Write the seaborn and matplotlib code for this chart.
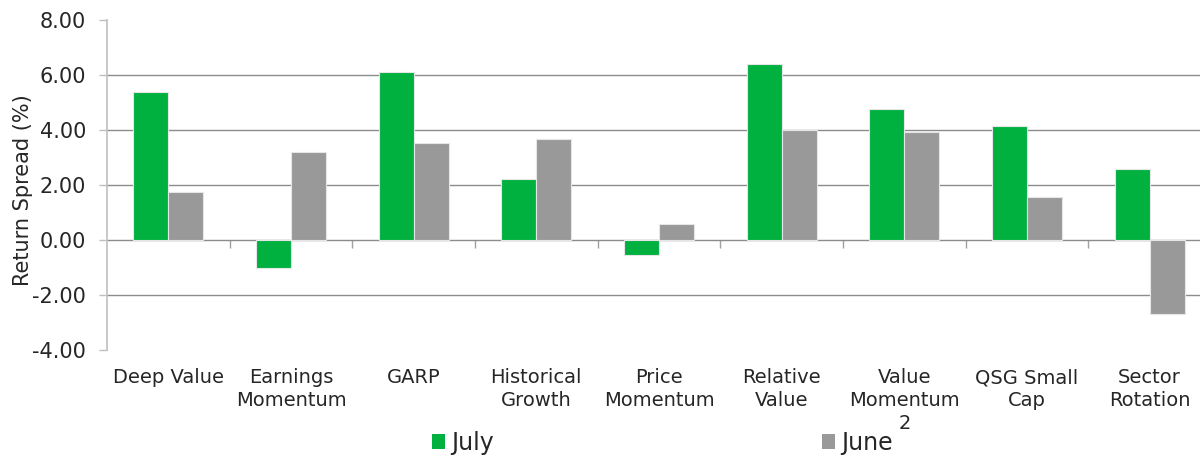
import matplotlib
matplotlib.use("Agg")
import matplotlib.pyplot as plt
import pandas as pd
import seaborn as sns
from matplotlib.patches import Patch
from matplotlib.ticker import FormatStrFormatter

categories = [
    "Deep Value", "Earnings\nMomentum", "GARP", "Historical\nGrowth",
    "Price\nMomentum", "Relative\nValue", "Value\nMomentum\n2",
    "QSG Small\nCap", "Sector\nRotation",
]
july = [5.40, -1.02, 6.11, 2.22, -0.55, 6.39, 4.78, 4.13, 2.57]
june = [1.76, 3.19, 3.54, 3.66, 0.57, 3.99, 3.93, 1.58, -2.69]
series = ["July", "June"]
colors = {"July": "#00b140", "June": "#999999"}

df = pd.DataFrame({
    "Strategy": categories * 2,
    "Month": ["July"] * len(categories) + ["June"] * len(categories),
    "Spread": july + june,
})

sns.set_style("white")
plt.rcParams["font.family"] = ["DejaVu Sans"]

fig = plt.figure(figsize=(12, 4.57), dpi=100)
ax = fig.add_axes([107 / 1200, 1 - 350 / 457, (1211 - 107) / 1200, 330 / 457])

sns.barplot(
    data=df, x="Strategy", y="Spread", hue="Month", order=categories,
    hue_order=series, palette=colors, saturation=1, width=0.57, gap=0,
    legend=False, edgecolor="#e6e6e6", linewidth=0.8, ax=ax,
)

ax.set_ylim(-4, 8)
ax.set_xlim(-0.5, len(categories) - 0.5)
ax.set_yticks(range(-4, 9, 2))
ax.yaxis.set_major_formatter(FormatStrFormatter("%.2f"))
ax.set_axisbelow(True)
ax.yaxis.grid(True, color="#8c8c8c", linewidth=1.0)
gl = ax.get_ygridlines()
gl[0].set_visible(False)
gl[-1].set_visible(False)

for side in ["top", "right", "bottom"]:
    ax.spines[side].set_visible(False)
ax.spines["left"].set_color("#bfbfbf")
ax.spines["left"].set_linewidth(1.2)

ax.tick_params(axis="y", direction="out", length=6, width=1, color="#bfbfbf",
               labelsize=15, pad=9, left=True)
ax.tick_params(axis="x", length=0, labelsize=14, pad=13)
for lbl in ax.get_xticklabels():
    lbl.set_linespacing(1.28)
    lbl.set_verticalalignment("top")

ax.set_xlabel("")
ax.set_ylabel("Return Spread (%)", fontsize=15)
ax.yaxis.set_label_coords(-0.067, 0.485)

# tick marks between categories along the zero line
sec = ax.secondary_xaxis(1 / 3)
sec.set_xticks([i + 0.5 for i in range(len(categories) - 1)])
sec.set_xticklabels([])
sec.tick_params(axis="x", direction="out", length=6, width=1, color="#a0a0a0")
sec.spines["bottom"].set_visible(False)

handles = [Patch(facecolor=colors[s], edgecolor="none") for s in series]
fig.legend(
    handles, series, loc="center", bbox_to_anchor=(0.552, 0.031), ncol=2,
    frameon=False, fontsize=17, handlelength=0.55, handleheight=0.6,
    handletextpad=0.25, columnspacing=13.9,
)

fig.savefig("out.png", dpi=100)
